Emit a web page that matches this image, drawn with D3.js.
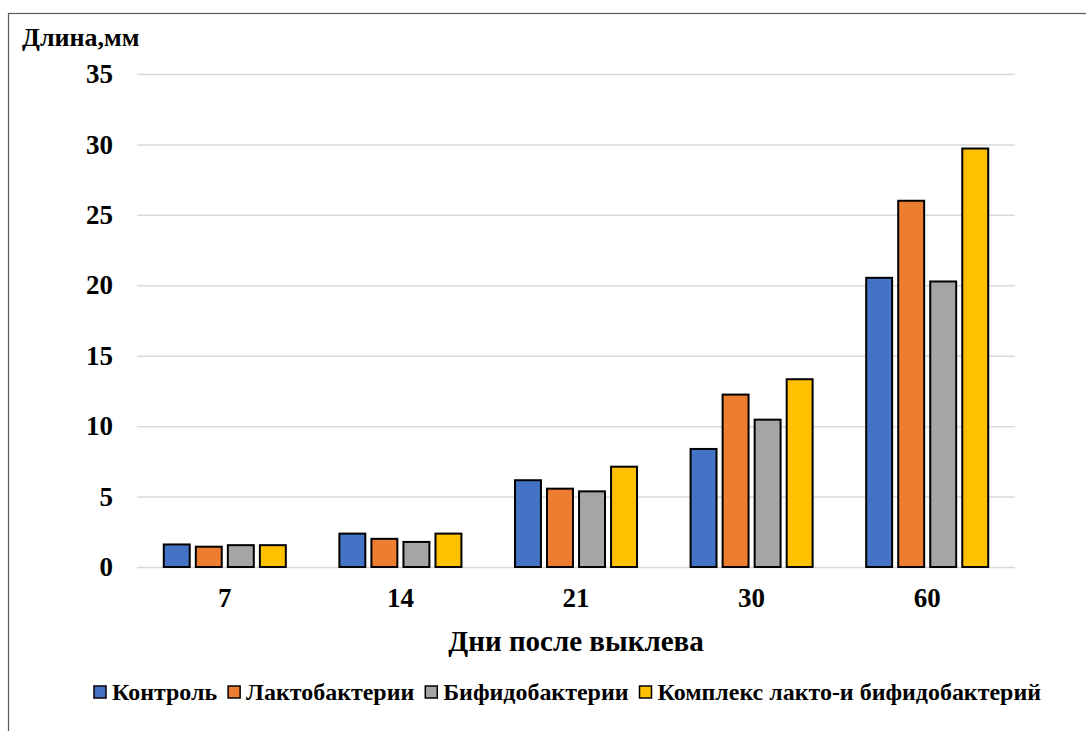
<!DOCTYPE html>
<html>
<head>
<meta charset="utf-8">
<script src="https://cdn.jsdelivr.net/npm/d3@7"></script>
<style>
  body { margin: 0; background: #fff; }
  text { font-family: "Liberation Serif", "Times New Roman", serif; font-weight: bold; fill: #000; }
</style>
</head>
<body>
<div id="chart"></div>
<script>
// data
var days = ["7", "14", "21", "30", "60"];
var seriesNames = ["Контроль", "Лактобактерии", "Бифидобактерии", "Комплекс лакто-и бифидобактерий"];
var kontrol = [1.6, 2.37, 6.16, 8.38, 20.53];
var lakto = [1.44, 2.0, 5.56, 12.24, 26.0];
var bifido = [1.55, 1.78, 5.37, 10.46, 20.27];
var kompleks = [1.55, 2.37, 7.12, 13.33, 29.71];
var yTicks = [0, 5, 10, 15, 20, 25, 30, 35];
var colors = ["#4472C4", "#ED7D31", "#A5A5A5", "#FFC000"];

function draw_chart(){
    var WIDTH = 1086, HEIGHT = 731;
    var PLOT_LEFT = 137, PLOT_RIGHT = 1015, PLOT_TOP = 74, PLOT_BOTTOM = 567;

    var svg = d3.select("#chart").append("svg")
        .attr("width", WIDTH)
        .attr("height", HEIGHT);

    // chart frame
    svg.append("rect")
        .attr("x", 8.5).attr("y", 13.5)
        .attr("width", WIDTH + 10).attr("height", HEIGHT + 10)
        .attr("fill", "#fff")
        .attr("stroke", "#595959")
        .attr("stroke-width", 1.2);

    var x0 = d3.scaleBand().domain(days).range([PLOT_LEFT, PLOT_RIGHT]).paddingInner(0.305).paddingOuter(0.1525);
    var x1 = d3.scaleBand().domain(d3.range(4)).range([0, x0.bandwidth()]).paddingInner(0.19);
    var y = d3.scaleLinear().domain([0, 35]).range([PLOT_BOTTOM, PLOT_TOP]);

    // grid
    var yAxis = d3.axisLeft(y).tickValues(yTicks).tickSize(-(PLOT_RIGHT - PLOT_LEFT)).tickPadding(24);
    var gy = svg.append("g").attr("transform", "translate(" + PLOT_LEFT + ",0)").call(yAxis);
    gy.select(".domain").remove();
    gy.selectAll(".tick line").attr("stroke", "#d9d9d9").attr("stroke-width", 1.5);
    gy.selectAll(".tick text")
        .attr("font-size", "27px")
        .style("font-family", "Liberation Serif")
        .style("font-weight", "bold");

    // bars
    var allSeries = [kontrol, lakto, bifido, kompleks];
    var groups = svg.append("g").selectAll("g")
        .data(days).enter().append("g")
        .attr("transform", function(d){ return "translate(" + x0(d) + ",0)"; });

    groups.selectAll("rect")
        .data(function(d, i){ return allSeries.map(function(s, k){ return {k: k, v: s[i]}; }); })
        .enter().append("rect")
        .attr("x", function(d){ return x1(d.k); })
        .attr("y", function(d){ return y(d.v); })
        .attr("width", x1.bandwidth())
        .attr("height", function(d){ return y(0) - y(d.v); })
        .attr("fill", function(d){ return colors[d.k]; })
        .attr("stroke", "#000")
        .attr("stroke-width", 2);

    // x axis labels
    var xAxis = d3.axisBottom(x0).tickSize(0).tickPadding(21);
    var gx = svg.append("g").attr("transform", "translate(0," + PLOT_BOTTOM + ")").call(xAxis);
    gx.select(".domain").remove();
    gx.selectAll(".tick text")
        .attr("font-size", "27px")
        .style("font-family", "Liberation Serif")
        .style("font-weight", "bold");

    // titles
    svg.append("text")
        .attr("x", 22).attr("y", 46)
        .attr("font-size", "26px")
        .text("Длина,мм");

    svg.append("text")
        .attr("x", 576).attr("y", 651)
        .attr("text-anchor", "middle")
        .attr("font-size", "29px")
        .text("Дни после выклева");

    // legend, squeezed to the width it has in the picture
    var legend = svg.append("g");
    var legX0 = 94, legX1 = 1041, legY = 700, box = 12, boxGap = 6, itemGap = 11;
    var items = legend.selectAll("g").data(seriesNames).enter().append("g");
    items.append("rect")
        .attr("width", box).attr("height", box)
        .attr("y", legY - 14)
        .attr("fill", function(d, i){ return colors[i]; })
        .attr("stroke", "#000").attr("stroke-width", 1.5);
    var texts = items.append("text")
        .attr("y", legY)
        .attr("font-size", "24px")
        .text(function(d){ return d; });

    var widths = [];
    texts.each(function(){ widths.push(this.getComputedTextLength()); });
    var fixed = seriesNames.length * (box + boxGap) + (seriesNames.length - 1) * itemGap;
    var s = (legX1 - legX0 - fixed) / d3.sum(widths);
    var cx = legX0;
    items.each(function(d, i){
        var g = d3.select(this);
        g.select("rect").attr("x", cx);
        g.select("text").attr("x", cx + box + boxGap)
            .attr("textLength", widths[i] * s)
            .attr("lengthAdjust", "spacingAndGlyphs");
        cx += box + boxGap + widths[i] * s + itemGap;
    });
}

draw_chart();
</script>
</body>
</html>
